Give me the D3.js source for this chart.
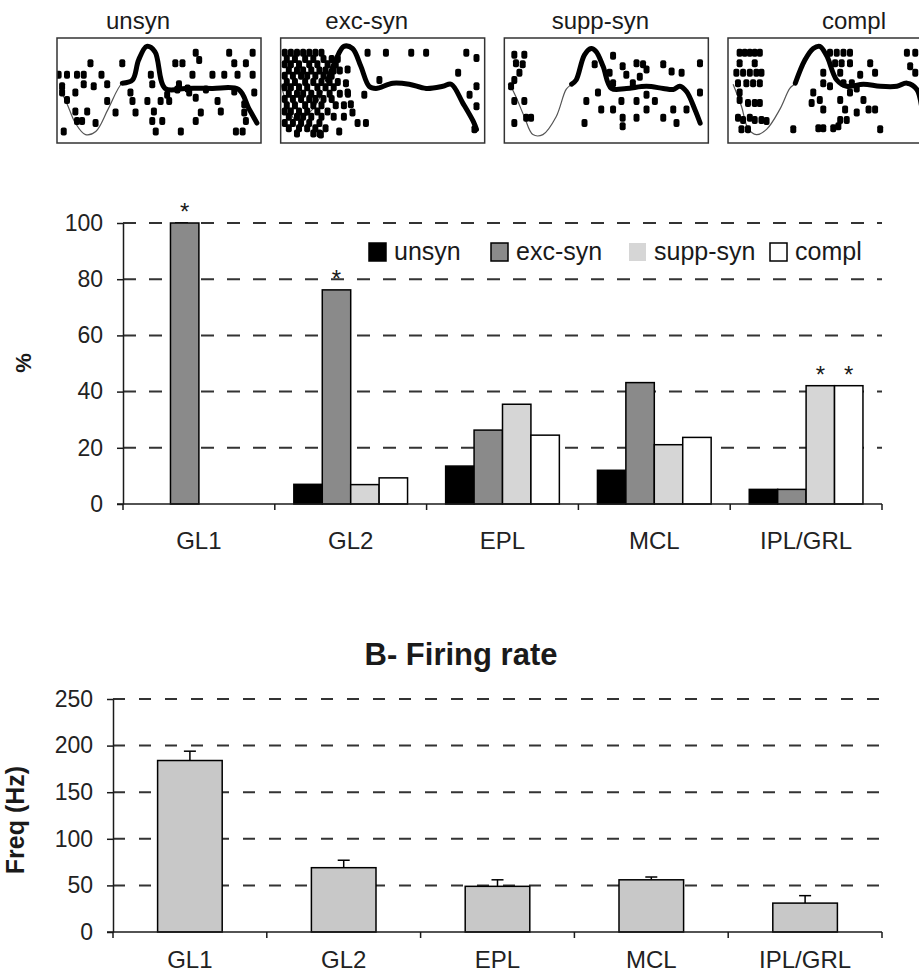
<!DOCTYPE html>
<html>
<head>
<meta charset="utf-8">
<script src="https://cdn.jsdelivr.net/npm/d3@7/dist/d3.min.js"></script>
<style>
  body { margin: 0; background: #fff; }
  svg { display: block; font-family: Arial, "Liberation Sans", sans-serif; }
</style>
</head>
<body>
<svg width="919" height="976"></svg>
<script>
// ---- data ----
var layers = ["GL1", "GL2", "EPL", "MCL", "IPL/GRL"];
var series = ["unsyn", "exc-syn", "supp-syn", "compl"];

// A - % of cells per layer
var unsynPct = [0, 7, 13.5, 12, 5.2];
var excPct   = [100, 76.2, 26.3, 43.2, 5.2];
var suppPct  = [0, 6.9, 35.5, 21.1, 42.1];
var complPct = [0, 9.3, 24.5, 23.7, 42.1];
var pctTicks = [0, 20, 40, 60, 80, 100];
var starBars = [["GL1", "exc-syn"], ["GL2", "exc-syn"], ["IPL/GRL", "supp-syn"], ["IPL/GRL", "compl"]];

// B - firing rate
var rateHz  = [184, 69, 49, 56, 31];
var rateErr = [10, 8, 7, 3, 8];
var hzTicks = [0, 50, 100, 150, 200, 250];

// example rasters: time (0-100) vs trial (0-100, top = 0)
var rasterNames = ["unsyn", "exc-syn", "supp-syn", "compl"];
var thickFrom = [32, 23, 33, 33];

var unsynCurve = [[1.6,49],[5,63],[9,81],[14,92],[19,89],[25,68],[32,43],[37,40],[40,21],[44,8],[48,13],
  [53,48],[63,48],[76,48],[89,49],[94,67],[98,81]];
var excCurve = [[0,43],[7.4,78],[15.6,68],[23,40],[27,21],[31,8],[35.2,10],[39.3,27],[43.4,46],[46.7,48],
  [55,43],[63,44],[71.3,48],[79.5,46],[83.6,44],[89.3,62],[94.3,79],[96,87]];
var suppCurve = [[2.5,43],[5.7,56],[9.8,75],[14,92],[18.9,92],[25.4,75],[30.3,49],[33,44],[35.2,40],
  [39.3,16],[42.6,10],[45,13],[48.4,27],[52.5,48],[59.8,48],[69.7,46],[77.9,48],[82.8,49],[86,46],
  [89.3,51],[93.4,68],[96,81]];
var complCurve = [[2.5,44],[6.6,65],[9.8,86],[13.9,92],[18.9,87],[25.4,68],[30.3,48],[33,43],[37.7,21],
  [41.8,10],[45,8],[48.4,17],[53.3,40],[58.2,46],[66.4,44],[74.6,46],[82.8,46],[87.7,43],[92.6,49],
  [96,75],[99,88]];

var unsynSpikes = [[0.8,35],[4.9,35],[9.8,35],[13.1,35],[16.4,24],[21.8,35],[32,24],[2.5,46],[2.5,52],
  [4.9,59],[9,52],[13.1,44],[18,46],[24.6,44],[9,70],[14.8,70],[9.8,79],[12.3,79],[18.9,81],[24.6,60],
  [28.7,71],[3.3,89],[36,52],[37,60],[38.5,71],[46,35],[46.7,44],[44.3,60],[47.5,70],[46.7,79],[51.6,79],
  [48.4,89],[50.8,60],[54,54],[55,60],[58,24],[61.5,24],[60.7,89],[59.8,44],[64,48],[66.4,35],[68,14],
  [69.7,21],[76.2,35],[82,35],[84.4,14],[86.9,24],[88.5,35],[92.6,24],[95.9,14],[95.9,35],[78.7,60],
  [80.3,70],[68,57],[70.5,71],[68,79],[86.9,51],[91.8,63],[91.8,71],[92.6,79],[87.7,89],[91,89],
  [96.7,52],[73,49],[64.8,52],[59,49]];
var excSpikes = [[2,14],[5,14],[8,14],[11,14],[14,14],[17,14],[20,14],
  [3,20],[7,20],[12,20],[16,20],[21,20],[25,20],[28,20],
  [2,25],[5,25],[9,25],[14,25],[18,25],[23,25],[27,25],
  [4,31],[8,31],[11,31],[15,31],[19,31],[22,31],[26,31],[29,31],
  [2,36],[6,36],[10,36],[13,36],[17,36],[21,36],[25,36],
  [3,42],[7,42],[12,42],[16,42],[20,42],[24,42],[28,42],
  [2,47],[5,47],[9,47],[13,47],[18,47],[22,47],[26,47],
  [4,53],[8,53],[11,53],[15,53],[19,53],[24,53],[29,53],[33,53],
  [2,58],[6,58],[10,58],[14,58],[17,58],[21,58],[25,58],
  [3,64],[7,64],[12,64],[16,64],[20,64],[27,64],[31,64],
  [2,70],[5,70],[9,70],[13,70],[18,70],[23,70],
  [4,75],[8,75],[11,75],[15,75],[20,75],[26,75],[31,75],
  [2,81],[6,81],[10,81],[14,81],[19,81],
  [4,86],[9,86],[13,86],[17,86],[22,86],
  [8,91],[16,91],[19,91],
  [42.6,14],[51.6,14],[64,14],[71.3,14],[91,14],[96,19],[87,33],[48.4,40],[41,54],[96,46],[92.6,54],
  [96,65],[37.7,81],[41.8,81],[28.7,89],[19.7,92],[95,87],[34.4,63],[32,43],[32.8,30],[32.8,52],[35.2,71]];
var suppSpikes = [[4.9,16],[9.8,16],[5.7,24],[9,25],[7.4,33],[4.9,40],[3.3,46],[4.9,60],[9.8,60],[4.9,81],
  [10.7,76],[13.1,76],[39.3,81],[40.2,60],[45.9,52],[44.3,25],[53.3,17],[51.6,33],[58,27],[59.8,35],
  [64.8,24],[68,25],[69.7,30],[66.4,37],[77.9,25],[82,32],[86.9,33],[95.9,24],[95.9,52],[47.5,68],
  [53.3,68],[57.4,60],[58,76],[58,84],[64.8,60],[69.7,68],[64.8,76],[73.8,60],[77.9,76],[82.8,68],
  [84.4,81],[89.3,68],[53.3,43],[63,43],[69.7,54]];
var complSpikes = [[5.7,14],[8.2,14],[10.7,14],[13.1,14],[15.6,14],[5.7,24],[13.1,24],
  [4.1,33],[7.4,33],[10.7,33],[13.9,33],[16.4,33],[4.9,43],[9,43],[12.3,43],[15.6,43],
  [5.7,52],[5.7,59],[9.8,62],[13.1,62],[15.6,62],[4.9,76],[7.4,78],[10.7,76],[13.1,78],[16.4,78],
  [18.9,79],[6.6,87],[9.8,87],
  [46.7,33],[50,14],[53.3,14],[56.6,14],[59.8,14],[52.5,24],[55.7,24],[59.8,24],[46.7,43],[50,46],
  [55,33],[56.6,43],[59.8,52],[63.1,48],[64.8,35],[69.7,24],[72.1,33],[66.4,59],[68.9,68],[41.8,52],
  [41,62],[45,59],[46.7,68],[55,59],[57.4,68],[55,78],[54.1,84],[51.6,86],[46.7,86],[44.3,86],
  [58.2,78],[63.1,71],[32,87],[74.6,87],[87.7,14],[91.8,14],[89.3,27],[91.8,33],[72.1,68],[60.7,43]];

// ---- drawing ----
var svg = d3.select("svg");
var ink = "#1a1a1a";

// raster panels
var curves = [unsynCurve, excCurve, suppCurve, complCurve];
var spikes = [unsynSpikes, excSpikes, suppSpikes, complSpikes];
var panelX = d3.scaleLinear().domain([0, 3]).range([57, 728]);
var panelW = 204, panelH = 105, panelTop = 38;
var titleShift = [-21, -16, -6, 24];

rasterNames.forEach(function(name, i) {
  var x0 = panelX(i);
  var g = svg.append("g");
  var tx = d3.scaleLinear().domain([0, 100]).range([x0, x0 + panelW]);
  var ty = d3.scaleLinear().domain([0, 100]).range([panelTop, panelTop + panelH]);

  g.append("text")
    .attr("x", x0 + panelW / 2 + titleShift[i]).attr("y", 29)
    .attr("text-anchor", "middle")
    .attr("font-size", 24).attr("fill", ink)
    .text(name);

  g.append("clipPath").attr("id", "clip" + i)
    .append("rect").attr("x", x0).attr("y", panelTop).attr("width", panelW).attr("height", panelH);

  var inner = g.append("g").attr("clip-path", "url(#clip" + i + ")");
  var line = d3.line().x(function(d){ return tx(d[0]); }).y(function(d){ return ty(d[1]); })
    .curve(d3.curveCatmullRom);

  inner.append("path").datum(curves[i])
    .attr("d", line).attr("fill", "none")
    .attr("stroke", "#555").attr("stroke-width", 1.2);

  inner.selectAll(".spk").data(spikes[i]).enter().append("rect")
    .attr("x", function(d){ return tx(d[0]) - 3; })
    .attr("y", function(d){ return ty(d[1]) - 4; })
    .attr("width", 6).attr("height", 8).attr("rx", 2)
    .attr("fill", "#000");

  inner.append("path").datum(curves[i].filter(function(d){ return d[0] >= thickFrom[i]; }))
    .attr("d", line).attr("fill", "none")
    .attr("stroke", "#000").attr("stroke-width", 5)
    .attr("stroke-linecap", "round").attr("stroke-linejoin", "round");

  g.append("rect")
    .attr("x", x0).attr("y", panelTop).attr("width", panelW).attr("height", panelH)
    .attr("fill", "none").attr("stroke", "#333").attr("stroke-width", 1.5);
});

// A - grouped bars
var pctBySeries = [unsynPct, excPct, suppPct, complPct];
var fills = ["#000000", "#8a8a8a", "#d6d6d6", "#ffffff"];

var xA = d3.scaleBand().domain(layers).range([123, 882]);
var xSub = d3.scaleBand().domain(series).range([0, xA.bandwidth()]).paddingOuter(0.67);
var yA = d3.scaleLinear().domain([0, 100]).range([504, 223]);

var gA = svg.append("g");

gA.selectAll(".gridA").data(pctTicks.slice(1)).enter().append("line")
  .attr("x1", 123).attr("x2", 882)
  .attr("y1", function(d){ return yA(d); }).attr("y2", function(d){ return yA(d); })
  .attr("stroke", "#333").attr("stroke-width", 2).attr("stroke-dasharray", "13,13");

var barsA = [];
series.forEach(function(s, si) {
  layers.forEach(function(l, li) {
    if (pctBySeries[si][li] > 0) barsA.push({ layer: l, series: s, value: pctBySeries[si][li], fill: fills[si] });
  });
});

gA.selectAll(".barA").data(barsA).enter().append("rect")
  .attr("x", function(d){ return xA(d.layer) + xSub(d.series); })
  .attr("y", function(d){ return yA(d.value); })
  .attr("width", xSub.bandwidth())
  .attr("height", function(d){ return yA(0) - yA(d.value); })
  .attr("fill", function(d){ return d.fill; })
  .attr("stroke", "#000").attr("stroke-width", 1.5);

gA.selectAll(".star").data(starBars).enter().append("text")
  .attr("x", function(d){ return xA(d[0]) + xSub(d[1]) + xSub.bandwidth() / 2; })
  .attr("y", function(d){
    var v = pctBySeries[series.indexOf(d[1])][layers.indexOf(d[0])];
    return yA(v) - 3;
  })
  .attr("text-anchor", "middle").attr("font-size", 24).attr("fill", ink)
  .text("*");

var axisA = gA.append("g").attr("transform", "translate(123,0)")
  .call(d3.axisLeft(yA).tickValues(pctTicks).tickSize(6).tickSizeOuter(0).tickPadding(14));
axisA.select(".domain").attr("stroke", ink).attr("stroke-width", 1.5);
axisA.selectAll(".tick line").attr("stroke", ink).attr("stroke-width", 1.5);
axisA.selectAll(".tick text").attr("font-size", 23).attr("fill", "#222").attr("font-family", null);

gA.append("line").attr("x1", 117).attr("x2", 882).attr("y1", yA(0)).attr("y2", yA(0))
  .attr("stroke", ink).attr("stroke-width", 1.5);
gA.selectAll(".tickXA").data(layers.map(function(l){ return xA(l); }).concat([xA.range()[1]]))
  .enter().append("line")
  .attr("x1", function(d){ return d; }).attr("x2", function(d){ return d; })
  .attr("y1", yA(0)).attr("y2", yA(0) + 6)
  .attr("stroke", ink).attr("stroke-width", 1.5);
gA.selectAll(".labA").data(layers).enter().append("text")
  .attr("x", function(d){ return xA(d) + xA.bandwidth() / 2; })
  .attr("y", 549)
  .attr("text-anchor", "middle").attr("font-size", 24).attr("fill", "#222")
  .text(function(d){ return d; });

gA.append("text")
  .attr("transform", "translate(31,363) rotate(-90)")
  .attr("text-anchor", "middle").attr("font-size", 22).attr("font-weight", "bold").attr("fill", ink)
  .text("%");

// legend
var legendX = [0, 122, 260, 401];
var legend = gA.append("g").attr("transform", "translate(369,252)");
series.forEach(function(s, si) {
  var item = legend.append("g").attr("transform", "translate(" + legendX[si] + ",0)");
  item.append("rect").attr("x", 0).attr("y", -9).attr("width", 17).attr("height", 18)
    .attr("fill", fills[si])
    .attr("stroke", si === 2 ? "none" : "#000").attr("stroke-width", 1.5);
  item.append("text").attr("x", 25).attr("y", 8)
    .attr("font-size", 25).attr("fill", ink).text(s);
});

// B - firing rate
var xB = d3.scaleBand().domain(layers).range([113, 882]);
var yB = d3.scaleLinear().domain([0, 250]).range([932, 699]);
var barW = xB.bandwidth() * 0.42;
var gB = svg.append("g");

gB.append("text").attr("x", 461).attr("y", 665)
  .attr("text-anchor", "middle").attr("font-size", 31).attr("font-weight", "bold").attr("fill", ink)
  .text("B- Firing rate");

gB.selectAll(".gridB").data(hzTicks.slice(1)).enter().append("line")
  .attr("x1", 113).attr("x2", 882)
  .attr("y1", function(d){ return yB(d); }).attr("y2", function(d){ return yB(d); })
  .attr("stroke", "#333").attr("stroke-width", 2).attr("stroke-dasharray", "12,14");

var barsB = layers.map(function(l, i){ return { layer: l, value: rateHz[i], err: rateErr[i] }; });

gB.selectAll(".errV").data(barsB).enter().append("line")
  .attr("x1", function(d){ return xB(d.layer) + xB.bandwidth() / 2; })
  .attr("x2", function(d){ return xB(d.layer) + xB.bandwidth() / 2; })
  .attr("y1", function(d){ return yB(d.value); })
  .attr("y2", function(d){ return yB(d.value + d.err); })
  .attr("stroke", "#000").attr("stroke-width", 1.5);
gB.selectAll(".errH").data(barsB).enter().append("line")
  .attr("x1", function(d){ return xB(d.layer) + xB.bandwidth() / 2 - 6; })
  .attr("x2", function(d){ return xB(d.layer) + xB.bandwidth() / 2 + 6; })
  .attr("y1", function(d){ return yB(d.value + d.err); })
  .attr("y2", function(d){ return yB(d.value + d.err); })
  .attr("stroke", "#000").attr("stroke-width", 1.5);

gB.selectAll(".barB").data(barsB).enter().append("rect")
  .attr("x", function(d){ return xB(d.layer) + (xB.bandwidth() - barW) / 2; })
  .attr("y", function(d){ return yB(d.value); })
  .attr("width", barW)
  .attr("height", function(d){ return yB(0) - yB(d.value); })
  .attr("fill", "#c8c8c8").attr("stroke", "#000").attr("stroke-width", 1.5);

var axisB = gB.append("g").attr("transform", "translate(113,0)")
  .call(d3.axisLeft(yB).tickValues(hzTicks).tickSize(6).tickSizeOuter(0).tickPadding(14));
axisB.select(".domain").attr("stroke", ink).attr("stroke-width", 1.5);
axisB.selectAll(".tick line").attr("stroke", ink).attr("stroke-width", 1.5);
axisB.selectAll(".tick text").attr("font-size", 23).attr("fill", "#222").attr("font-family", null);

gB.append("line").attr("x1", 107).attr("x2", 882).attr("y1", yB(0)).attr("y2", yB(0))
  .attr("stroke", ink).attr("stroke-width", 1.5);
gB.selectAll(".tickXB").data(layers.map(function(l){ return xB(l); }).concat([xB.range()[1]]))
  .enter().append("line")
  .attr("x1", function(d){ return d; }).attr("x2", function(d){ return d; })
  .attr("y1", yB(0)).attr("y2", yB(0) + 6)
  .attr("stroke", ink).attr("stroke-width", 1.5);
gB.selectAll(".labB").data(layers).enter().append("text")
  .attr("x", function(d){ return xB(d) + xB.bandwidth() / 2; })
  .attr("y", 968)
  .attr("text-anchor", "middle").attr("font-size", 24).attr("fill", "#222")
  .text(function(d){ return d; });

gB.append("text")
  .attr("transform", "translate(24,820) rotate(-90)")
  .attr("text-anchor", "middle").attr("font-size", 25).attr("font-weight", "bold").attr("fill", ink)
  .text("Freq (Hz)");
</script>
</body>
</html>
